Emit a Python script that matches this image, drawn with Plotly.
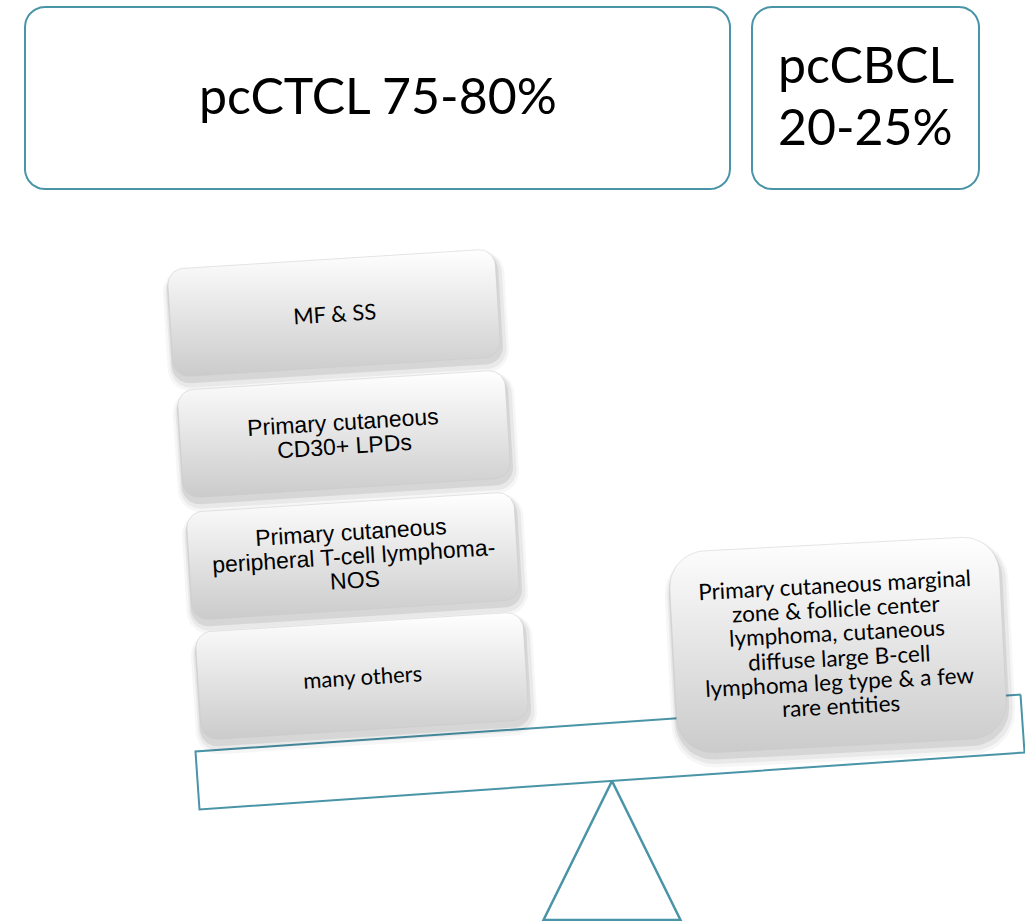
import numpy as np
import plotly.graph_objects as go

W, H = 1025, 921
TEAL = "#4A94A8"

# ---- content ----
top_labels = [["pcCTCL 75-80%"], ["pcCBCL", "20-25%"]]
tcell_labels = [
    ["MF & SS"],
    ["Primary cutaneous", "CD30+ LPDs"],
    ["Primary cutaneous", "peripheral T-cell lymphoma-", "NOS"],
    ["many others"],
]
tcell_fonts = ["Lato", "Liberation Sans", "Liberation Sans", "Lato"]
bcell_label = [
    "Primary cutaneous marginal",
    "zone & follicle center",
    "lymphoma, cutaneous",
    "diffuse large B-cell",
    "lymphoma leg type & a few",
    "rare entities",
]

# ---- layout constants (pixel space) ----
top_boxes = [(25, 7, 730, 189), (752, 7, 979, 189)]
tcell_centers = [(334, 313), (344, 434), (353, 556), (362, 676)]
tcell_size = (328, 108)
tcell_angle = 3.6
bcell_center = (838, 645)
bcell_size = (330, 202)
bcell_angle = 3.0
beam_center = (610, 752)
beam_size = (827, 58)
beam_angle = 3.95


def rot(px, py, cx, cy, ang):
    t = np.radians(ang)
    x = px * np.cos(t) + py * np.sin(t)
    y = -px * np.sin(t) + py * np.cos(t)
    return cx + x, cy + y


def rrect(cx, cy, w, h, r, ang, n=14):
    hw, hh = w / 2, h / 2
    xs, ys = [], []
    corners = [(hw - r, -hh + r, -90, 0), (hw - r, hh - r, 0, 90),
               (-hw + r, hh - r, 90, 180), (-hw + r, -hh + r, 180, 270)]
    for ox, oy, a0, a1 in corners:
        for a in np.linspace(a0, a1, n):
            xs.append(ox + r * np.cos(np.radians(a)))
            ys.append(oy + r * np.sin(np.radians(a)))
    xs.append(xs[0]); ys.append(ys[0])
    X, Y = rot(np.array(xs), np.array(ys), cx, cy, ang)
    return list(X), list(Y)


fig = go.Figure()
annotations = []


def add_text(lines, cx, cy, ang, spacing, size, family):
    n = len(lines)
    for i, ln in enumerate(lines):
        off = (i - (n - 1) / 2) * spacing
        x, y = rot(0.0, off, cx, cy, ang)
        annotations.append(dict(
            x=x, y=y, xref="x", yref="y", text=ln, showarrow=False,
            textangle=-ang, xanchor="center", yanchor="middle",
            font=dict(family=family, size=size, color="black")))


def add_outline(xs, ys, width, fill=None):
    fig.add_trace(go.Scatter(
        x=xs, y=ys, mode="lines", line=dict(color=TEAL, width=width),
        fill="toself" if fill else None, fillcolor=fill,
        hoverinfo="skip", showlegend=False))


def add_gradient_box(cx, cy, w, h, r, ang):
    # soft shadow
    for grow, dx, dy, a in [(14, 2, 8, 0.035), (9, 2, 7, 0.05), (4, 1, 5, 0.08)]:
        sx, sy = rrect(cx + dx, cy + dy, w + grow, h + grow, r + grow / 2, ang)
        fig.add_trace(go.Scatter(
            x=sx, y=sy, mode="lines", line=dict(width=0), fill="toself",
            fillcolor=f"rgba(0,0,0,{a})", hoverinfo="skip", showlegend=False))
    bx, by = rrect(cx, cy, w, h, r, ang)
    fig.add_trace(go.Scatter(
        x=bx, y=by, mode="lines", line=dict(width=0.6, color="rgba(200,200,200,0.8)"),
        fill="toself",
        fillgradient=dict(type="vertical",
                          colorscale=[[0, "#ffffff"], [1, "#cbcbcb"]],
                          start=min(by), stop=max(by)),
        hoverinfo="skip", showlegend=False))


# top boxes
for (x0, y0, x1, y1), lbl in zip(top_boxes, top_labels):
    cx, cy = (x0 + x1) / 2, (y0 + y1) / 2
    bx, by = rrect(cx, cy, x1 - x0, y1 - y0, 20, 0)
    add_outline(bx, by, 2, fill="white")
    add_text(lbl, cx, cy - 3, 0, 62, 50, "Lato")

# beam
bx, by = rrect(beam_center[0], beam_center[1], beam_size[0], beam_size[1], 0.01, beam_angle, n=2)
add_outline(bx, by, 2, fill="white")

# fulcrum
apex = rot(0.0, beam_size[1] / 2, beam_center[0], beam_center[1], beam_angle)
tx = [apex[0], apex[0] - 68.5, apex[0] + 68.5, apex[0]]
ty = [apex[1], H - 1, H - 1, apex[1]]
add_outline(tx, ty, 2.5)

# T-cell stack
for (cx, cy), lbl, fam in zip(tcell_centers, tcell_labels, tcell_fonts):
    add_gradient_box(cx, cy, tcell_size[0], tcell_size[1], 16, tcell_angle)
    size = 23 if fam == "Liberation Sans" else 22
    add_text(lbl, cx, cy, tcell_angle, 24, size, fam)

# B-cell box
add_gradient_box(bcell_center[0], bcell_center[1], bcell_size[0], bcell_size[1], 36, bcell_angle)
add_text(bcell_label, bcell_center[0], bcell_center[1], bcell_angle, 24.4, 22.5, "Lato")

fig.update_layout(
    width=W, height=H, margin=dict(l=0, r=0, t=0, b=0),
    paper_bgcolor="white", plot_bgcolor="white",
    xaxis=dict(range=[0, W], visible=False, fixedrange=True),
    yaxis=dict(range=[H, 0], visible=False, fixedrange=True),
    annotations=annotations, showlegend=False,
)
fig.write_html("out.html")
